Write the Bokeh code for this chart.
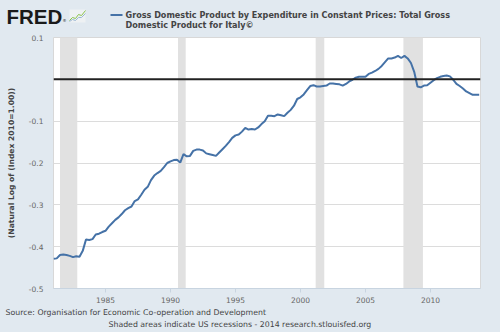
from bokeh.plotting import figure
from bokeh.layouts import column, row
from bokeh.models import Span, BoxAnnotation, FixedTicker, CustomJSTickFormatter, Title
from bokeh.core.properties import value
from bokeh.embed import file_html
from bokeh.resources import INLINE

# Quarterly data, 1981Q1 .. 2013Q4 (natural log of index 2010=1.00)
start_year = 1981
values = [
    -0.429, -0.428, -0.420, -0.419,   # 1981
    -0.420, -0.422, -0.425, -0.423,   # 1982
    -0.424, -0.410, -0.383, -0.384,   # 1983
    -0.382, -0.371, -0.369, -0.365,   # 1984
    -0.362, -0.352, -0.344, -0.336,   # 1985
    -0.330, -0.322, -0.313, -0.308,   # 1986
    -0.304, -0.291, -0.287, -0.276,   # 1987
    -0.264, -0.257, -0.241, -0.230,   # 1988
    -0.224, -0.219, -0.210, -0.200,   # 1989
    -0.196, -0.193, -0.192, -0.199,   # 1990
    -0.179, -0.184, -0.183, -0.171,   # 1991
    -0.168, -0.168, -0.170, -0.177,   # 1992
    -0.179, -0.181, -0.183, -0.175,   # 1993
    -0.167, -0.159, -0.150, -0.140,   # 1994
    -0.134, -0.132, -0.125, -0.116,   # 1995
    -0.120, -0.119, -0.120, -0.115,   # 1996
    -0.107, -0.100, -0.087, -0.087,   # 1997
    -0.088, -0.084, -0.086, -0.088,   # 1998
    -0.080, -0.073, -0.063, -0.047,   # 1999
    -0.043, -0.036, -0.026, -0.016,   # 2000
    -0.014, -0.017, -0.017, -0.016,   # 2001
    -0.015, -0.010, -0.010, -0.011,   # 2002
    -0.012, -0.015, -0.011, -0.005,   # 2003
    -0.001, 0.004, 0.006, 0.006,      # 2004
    0.006, 0.013, 0.016, 0.020,       # 2005
    0.025, 0.032, 0.041, 0.050,       # 2006
    0.050, 0.052, 0.056, 0.051,       # 2007
    0.056, 0.050, 0.039, 0.018,       # 2008
    -0.017, -0.019, -0.015, -0.014,   # 2009
    -0.008, -0.002, 0.003, 0.006,     # 2010
    0.008, 0.009, 0.007, -0.001,      # 2011
    -0.011, -0.016, -0.022, -0.029,   # 2012
    -0.033, -0.037, -0.037, -0.037,   # 2013
]
dates = [start_year + i * 0.25 for i in range(len(values))]

recession_starts = [1981.5, 1990.58, 2001.17, 2007.92]
recession_ends = [1982.83, 1991.17, 2001.83, 2009.42]

x_ticks = [1985, 1990, 1995, 2000, 2005, 2010]
y_ticks = [0.1, -0.1, -0.2, -0.3, -0.4, -0.5]

series_line1 = "Gross Domestic Product by Expenditure in Constant Prices: Total Gross"
series_line2 = "Domestic Product for Italy\u00a9"
logo_text = "FRED"
y_label = "(Natural Log of (Index 2010=1.00))"
source_text = "Source: Organisation for Economic Co-operation and Development"
footer_text = "Shaded areas indicate US recessions - 2014 research.stlouisfed.org"

BG = "#e1e9f0"
LINE = "#4572a7"
FONT = "DejaVu Sans"
TXT = "#444444"

# ---------------- header strip (logo + legend), pixel-like coordinates ----------------
HW, HH = 500, 30
h = figure(width=HW, height=HH, output_backend="svg", toolbar_location=None,
           x_range=(0, HW), y_range=(HH, 0), x_axis_type=None, y_axis_type=None,
           min_border=0, min_border_left=0, min_border_right=0, min_border_top=0, min_border_bottom=0)
h.background_fill_color = BG
h.border_fill_color = BG
h.outline_line_color = None
h.grid.visible = False

h.text(x=[6], y=[15.5], text=[logo_text], text_font=value("Liberation Sans"), text_font_size="20.5px",
       text_font_style="bold", text_color="#1a1a1a", text_baseline="middle", text_align="left")
h.text(x=[62], y=[20], text=["\u00ae"], text_font=value(FONT), text_font_size="4px",
       text_color="#1a1a1a", text_baseline="middle", text_align="left")
# small chart icon
h.quad(left=[69], right=[85], top=[9], bottom=[22], fill_color="#eef1f3", line_color=None)
h.line(x=[69, 72, 75, 78, 81, 85], y=[20, 17, 18, 14, 15, 10], line_color="#8bc34a", line_width=1)
h.line(x=[69, 72, 75, 78, 81, 85], y=[21, 19, 20, 17, 17, 13], line_color="#9bb7d4", line_width=1)
# legend swatch and text
h.line(x=[110, 122], y=[14.5, 14.5], line_color=LINE, line_width=2)
h.text(x=[125, 125], y=[14.5, 24.5], text=[series_line1, series_line2], text_font=value(FONT),
       text_font_size="8.1px", text_font_style="bold", text_color=TXT,
       text_baseline="middle", text_align="left")

# ---------------- main chart ----------------
p = figure(width=500, height=302, output_backend="svg", toolbar_location=None,
           x_range=(1981.0, 2013.85), y_range=(-0.5, 0.1),
           min_border_left=53, min_border_right=20, min_border_top=7, min_border_bottom=44)
p.border_fill_color = BG
p.background_fill_color = "white"
p.outline_line_color = "#d8d8d8"

for s, e in zip(recession_starts, recession_ends):
    p.add_layout(BoxAnnotation(left=s, right=e, fill_color="#e1e1e1", fill_alpha=1.0, line_alpha=0, level="underlay"))

p.xgrid.visible = False
p.ygrid.ticker = FixedTicker(ticks=y_ticks)
p.ygrid.grid_line_color = "#dcdcdc"
p.ygrid.grid_line_width = 1

p.add_layout(Span(location=0, dimension="width", line_color="#222222", line_width=2))

p.line(dates, values, line_color=LINE, line_width=2)

xa = p.xaxis[0]
xa.ticker = FixedTicker(ticks=x_ticks)
xa.formatter = CustomJSTickFormatter(code="return tick.toFixed(0);")
xa.axis_line_color = "#c8d4e0"
xa.major_tick_line_color = "#c8d4e0"
xa.major_tick_in = 0
xa.major_tick_out = 4
xa.minor_tick_line_color = None
xa.major_label_text_font = FONT
xa.major_label_text_font_size = "7.5px"
xa.major_label_text_color = "#666666"
xa.major_label_standoff = 4

ya = p.yaxis[0]
ya.ticker = FixedTicker(ticks=y_ticks)
ya.formatter = CustomJSTickFormatter(code="return tick.toFixed(1);")
ya.axis_line_color = None
ya.major_tick_line_color = None
ya.minor_tick_line_color = None
ya.major_label_text_font = FONT
ya.major_label_text_font_size = "7.5px"
ya.major_label_text_color = "#666666"
ya.major_label_standoff = 4
ya.axis_label = y_label
ya.axis_label_text_font = FONT
ya.axis_label_text_font_style = "bold"
ya.axis_label_text_font_size = "7.6px"
ya.axis_label_text_color = TXT
ya.axis_label_standoff = 10

def title(text, where, offset, size="7.8px", style="normal", color=TXT, align="left", standoff=1):
    p.add_layout(Title(text=text, align=align, offset=offset, text_font=FONT, text_font_size=size,
                       text_font_style=style, text_color=color, standoff=standoff), where)

title(source_text, "below", -48)
title(footer_text, "below", 55)

layout = column(row(h), row(p), spacing=0)
layout.styles = {"background-color": BG}
open("out.html", "w").write(file_html(layout, INLINE))
